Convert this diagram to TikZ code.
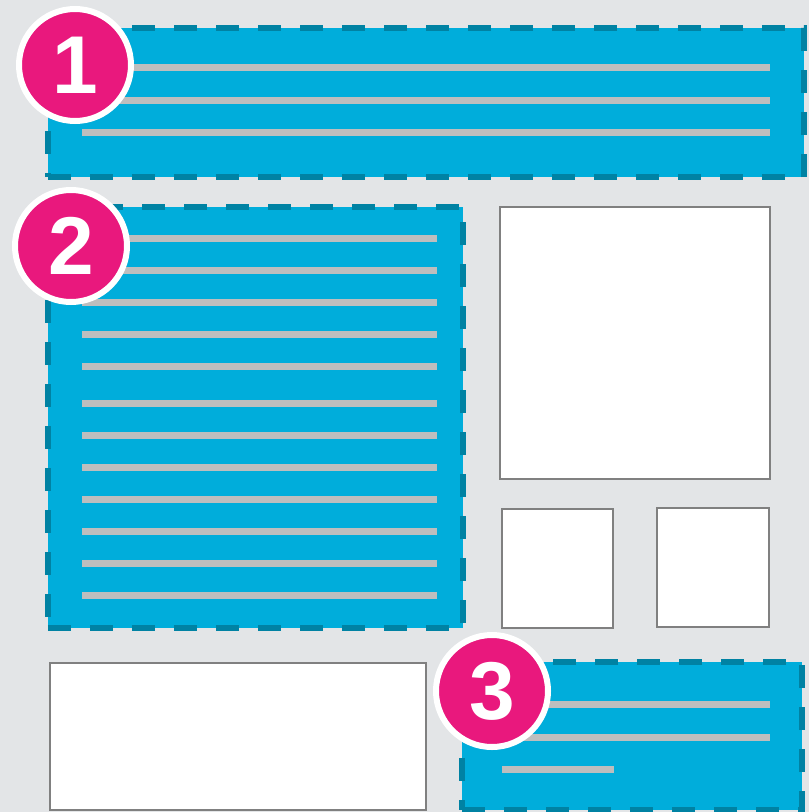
\documentclass[tikz,border=0pt]{standalone}
\usepackage{fontspec}
\setmainfont{Liberation Sans}
\usepackage{xcolor}
\definecolor{paperbg}{RGB}{227,229,231}
\definecolor{panelblue}{RGB}{0,173,219}
\definecolor{paneledge}{RGB}{0,130,163}
\definecolor{badgepink}{RGB}{233,24,125}
\definecolor{rulegray}{RGB}{190,190,190}

\begin{document}
\begin{tikzpicture}[
    x=0.03cm, y=-0.03cm,
    panel/.style={rectangle,fill=panelblue,draw=paneledge,line width=0.2cm,
      dash pattern=on 0.69cm off 0.57cm,inner sep=0pt},
    slot/.style={rectangle,fill=white,draw=black!50,line width=0.06cm,inner sep=0pt},
    badge/.style={circle,fill=badgepink,draw=white,line width=0.18cm,
      minimum size=3.36cm,inner sep=0pt,text=white,
      font=\fontsize{70}{70}\selectfont\bfseries},
    textline/.style={draw=rulegray,line width=0.21cm}
  ]
    % page
    \fill[paperbg] (0,0) rectangle (809,812);
    \useasboundingbox (0,0) rectangle (809,812);

    % highlighted panels
    \node[panel,minimum width=22.68cm,minimum height=4.47cm] (header) at (426,102.5) {};
    \node[panel,minimum width=12.45cm,minimum height=12.63cm] (body) at (255.5,417.5) {};
    \node[panel,minimum width=10.2cm,minimum height=4.44cm] (footer) at (632,736) {};

    % text lines
    \foreach \y in {67,100,132}
      \draw[textline] (82,\y) -- (770,\y);
    \foreach \y in {238,270,302,334,366,403,435,467,499,531,563,595}
      \draw[textline] (82,\y) -- (437,\y);
    \foreach \y in {704,737}
      \draw[textline] (502,\y) -- (770,\y);
    \draw[textline] (502,769) -- (614,769);

    % plain boxes
    \node[slot,minimum width=8.1cm,minimum height=8.16cm] (photo) at (635,343) {};
    \node[slot,minimum width=3.33cm,minimum height=3.57cm] (thumbl) at (557.5,568.5) {};
    \node[slot,minimum width=3.36cm,minimum height=3.57cm] (thumbr) at (713,567.5) {};
    \node[slot,minimum width=11.28cm,minimum height=4.41cm] (aside) at (238,736.5) {};

    % numbered badges
    \node[badge] (one) at (75,65) {1};
    \node[badge] (two) at (71,246) {2};
    \node[badge] (three) at (492,691) {3};
  \end{tikzpicture}
\end{document}
